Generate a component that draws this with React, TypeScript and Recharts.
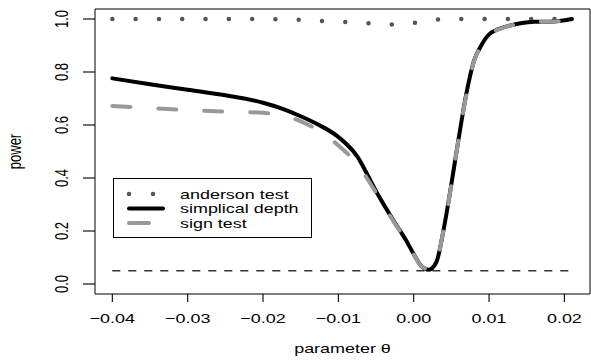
import React from 'react';
import { LineChart, Line, XAxis, YAxis, ReferenceLine, ReferenceArea, Legend } from 'recharts';

// power curves
const THETA = [
  -0.04, -0.035, -0.03, -0.025, -0.0225, -0.02, -0.0175, -0.015, -0.0125, -0.01,
  -0.0075, -0.005, -0.0025, -0.001, 0, 0.001, 0.002, 0.003, 0.004, 0.005,
  0.006, 0.007, 0.008, 0.009, 0.01, 0.012, 0.014, 0.016, 0.018, 0.021,
];
const ANDERSON = [
  1.0, 1.0, 1.0, 1.0, 1.0, 1.0, 0.999, 0.997, 0.993, 0.99,
  0.986, 0.982, 0.979, 0.98, 0.985, 0.99, 0.994, 0.997, 1.0, 1.0,
  1.0, 1.0, 1.0, 1.0, 1.0, 1.0, 1.0, 1.0, 1.0, 1.0,
];
const SIMPLICIAL = [
  0.776, 0.754, 0.733, 0.712, 0.7, 0.684, 0.662, 0.633, 0.599, 0.555,
  0.482, 0.35, 0.231, 0.164, 0.113, 0.068, 0.054, 0.082, 0.21, 0.377,
  0.555, 0.72, 0.842, 0.902, 0.942, 0.969, 0.983, 0.99, 0.99, 1.0,
];
const SIGN = [
  0.672, 0.664, 0.656, 0.651, 0.649, 0.646, 0.637, 0.614, 0.577, 0.523,
  0.452, 0.345, 0.228, 0.163, 0.112, 0.068, 0.056, 0.082, 0.21, 0.375,
  0.555, 0.715, 0.84, 0.9, 0.94, 0.968, 0.982, 0.99, 0.99, 0.998,
];
const SERIES_NAMES = ['anderson test', 'simplical depth', 'sign test'];
const LEVEL = 0.05;

const X_TICKS = [-0.04, -0.03, -0.02, -0.01, 0, 0.01, 0.02];
const Y_TICKS = [0, 0.2, 0.4, 0.6, 0.8, 1.0];
const X_DOMAIN = [-0.0423, 0.0234];
const Y_DOMAIN = [-0.0377, 1.0377];

const data = THETA.map((t, i) => ({
  theta: t,
  anderson: ANDERSON[i],
  simplicial: SIMPLICIAL[i],
  sign: SIGN[i],
}));

const FONT = '"Liberation Sans", Arial, Helvetica, sans-serif';
const STRETCH = 1.38;

const STYLES: Record<string, any> = {
  anderson: { stroke: '#555555', strokeWidth: 4.5, strokeDasharray: '0 23.3' },
  simplicial: { stroke: '#000000', strokeWidth: 4, strokeDasharray: undefined },
  sign: { stroke: '#999999', strokeWidth: 4, strokeDasharray: '18 28' },
};

const fmtX = (v: number) => v.toFixed(2).replace('-', '\u2212');

// tick props: x,y are the label anchor (axis edge + tickSize + tickMargin 2)
const XTick = (props: any) => {
  const { x, y, payload } = props;
  return (
    <g>
      <path d={`M${x},${y - 10}V${y - 2}`} stroke="#000" strokeWidth={1.1} fill="none" />
      <text
        transform={`translate(${x},${y + 18.5}) scale(${STRETCH},1)`}
        textAnchor="middle"
        fontFamily={FONT}
        fontSize={13}
        fill="#000"
      >
        {fmtX(payload.value)}
      </text>
    </g>
  );
};

const YTick = (props: any) => {
  const { x, y, payload } = props;
  return (
    <g>
      <path d={`M${x + 2},${y}H${x + 14}`} stroke="#000" strokeWidth={1.1} fill="none" />
      <text
        transform={`translate(${x - 13},${y}) scale(${STRETCH},1) rotate(-90)`}
        textAnchor="middle"
        fontFamily={FONT}
        fontSize={13}
        fill="#000"
      >
        {payload.value.toFixed(1)}
      </text>
    </g>
  );
};

const XTitle = (props: any) => {
  const { x, y, width } = props.viewBox;
  return (
    <text
      transform={`translate(${x + width / 2},${y + 59}) scale(${STRETCH},1)`}
      textAnchor="middle"
      fontFamily={FONT}
      fontSize={13}
      fill="#000"
    >
      parameter θ
    </text>
  );
};

const YTitle = (props: any) => {
  const { x, y, height } = props.viewBox;
  return (
    <text
      transform={`translate(${x + 21},${y + height / 2}) scale(${STRETCH},1) rotate(-90)`}
      textAnchor="middle"
      fontFamily={FONT}
      fontSize={13}
      fill="#000"
    >
      power
    </text>
  );
};

const renderLegend = (props: any) => {
  const payload = [...(props.payload || [])].sort(
    (a: any, b: any) => SERIES_NAMES.indexOf(a.value) - SERIES_NAMES.indexOf(b.value)
  );
  return (
    <svg width={199} height={60} style={{ display: 'block' }}>
      <rect x={0.5} y={0.5} width={198} height={59} fill="#fff" stroke="#000" />
      {payload.map((entry: any, i: number) => {
        const st = STYLES[entry.dataKey] || STYLES.simplicial;
        const cy = 16 + i * 14.5;
        return (
          <g key={entry.value}>
            <line
              x1={16}
              x2={entry.dataKey === 'sign' ? 36 : 50}
              y1={cy}
              y2={cy}
              stroke={st.stroke}
              strokeWidth={st.strokeWidth}
              strokeDasharray={entry.dataKey === 'anderson' ? '0 24' : undefined}
              strokeLinecap="round"
            />
            <text
              transform={`translate(67,${cy + 4.5}) scale(${STRETCH},1)`}
              fontFamily={FONT}
              fontSize={13}
              fill="#000"
            >
              {entry.value}
            </text>
          </g>
        );
      })}
    </svg>
  );
};

export default function App() {
  return (
    <div style={{ position: 'absolute', left: 0, top: 0, background: '#fff' }}>
      <LineChart width={591} height={362} data={data} margin={{ top: 9, right: 1, bottom: 0, left: 0 }}>
        <XAxis
          dataKey="theta"
          type="number"
          domain={X_DOMAIN}
          ticks={X_TICKS}
          allowDataOverflow
          height={68}
          axisLine={false}
          tickLine={false}
          tickSize={8}
          tick={<XTick />}
          label={{ content: <XTitle /> }}
        />
        <YAxis
          type="number"
          domain={Y_DOMAIN}
          ticks={Y_TICKS}
          allowDataOverflow
          width={95}
          axisLine={false}
          tickLine={false}
          tickSize={12}
          tick={<YTick />}
          label={{ content: <YTitle /> }}
        />
        <ReferenceLine
          segment={[{ x: THETA[0], y: LEVEL }, { x: THETA[THETA.length - 1], y: LEVEL }]}
          stroke="#333"
          strokeWidth={1.3}
          strokeDasharray="8 8"
        />
        <Line
          dataKey="anderson"
          name={SERIES_NAMES[0]}
          type="monotone"
          dot={false}
          activeDot={false}
          strokeLinecap="round"
          {...STYLES.anderson}
          isAnimationActive={false}
        />
        <Line
          dataKey="simplicial"
          name={SERIES_NAMES[1]}
          type="monotone"
          dot={false}
          activeDot={false}
          strokeLinecap="round"
          {...STYLES.simplicial}
          isAnimationActive={false}
        />
        <Line
          dataKey="sign"
          name={SERIES_NAMES[2]}
          type="monotone"
          dot={false}
          activeDot={false}
          strokeLinecap="round"
          {...STYLES.sign}
          isAnimationActive={false}
        />
        <ReferenceArea
          x1={X_DOMAIN[0]}
          x2={X_DOMAIN[1]}
          y1={Y_DOMAIN[0]}
          y2={Y_DOMAIN[1]}
          fill="none"
          fillOpacity={0}
          stroke="#000"
          strokeWidth={1}
          ifOverflow="visible"
        />
        <Legend
          layout="horizontal"
          verticalAlign="middle"
          align="center"
          content={renderLegend}
          wrapperStyle={{ left: 113, top: 178, width: 199, height: 60 }}
        />
      </LineChart>
    </div>
  );
}
